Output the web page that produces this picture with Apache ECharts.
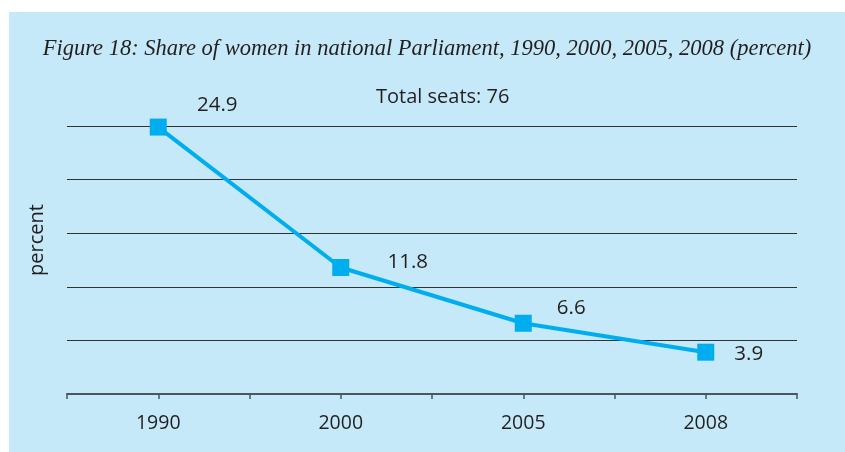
<!DOCTYPE html>
<html>
<head>
<meta charset="utf-8">
<script src="https://cdn.jsdelivr.net/npm/echarts@6/dist/echarts.min.js"></script>
<style>
  html, body { margin: 0; padding: 0; background: #fff; }
  #chart { position: absolute; left: 9px; top: 12px; width: 836px; height: 440px; background: #c5e9f8; }
</style>
</head>
<body>
<div id="chart"></div>
<script>
// data
var years = ['1990', '2000', '2005', '2008'];
var shares = [24.9, 11.8, 6.6, 3.9];
// where each value label sits relative to its marker
var labelOffsets = [[59, -22], [67, -5], [48, -15], [43, 2]];

var titleText = 'Figure 18: Share of women in national Parliament, 1990, 2000, 2005, 2008 (percent)';
var subText = 'Total seats: 76';
var yName = 'percent';

var lineColor = '#00aeef';
var textColor = '#231f20';
var sansFont = '"Open Sans", "DejaVu Sans", sans-serif';

var chart = echarts.init(document.getElementById('chart'));

var seriesData = shares.map(function (v, i) {
    return {
        value: v,
        label: { offset: labelOffsets[i] }
    };
});

var option = {
    animation: false,
    title: [{
        text: titleText,
        left: 'center',
        top: 21,
        textStyle: {
            fontFamily: '"Liberation Serif", "DejaVu Serif", serif',
            fontStyle: 'italic',
            fontWeight: 'normal',
            fontSize: 22.5,
            color: textColor
        }
    }, {
        text: subText,
        left: 362,
        top: 70,
        textStyle: {
            fontFamily: sansFont,
            fontWeight: 'normal',
            fontSize: 20,
            color: textColor
        }
    }],
    // y axis name, placed by hand since it is not centred on the plot
    graphic: [{
        type: 'text',
        x: 28,
        y: 228,
        rotation: Math.PI / 2,
        style: {
            text: yName,
            fontFamily: sansFont,
            fontSize: 20,
            fill: textColor,
            align: 'center',
            verticalAlign: 'middle'
        }
    }],
    grid: { left: 58, right: 48, top: 114, bottom: 58 },
    xAxis: [{
        type: 'category',
        data: years,
        boundaryGap: true,
        axisLine: { lineStyle: { color: '#4b5660', width: 2 } },
        axisTick: { show: true, length: 5, lineStyle: { color: '#4b5660', width: 1.5 } },
        axisLabel: { margin: 19, fontFamily: sansFont, fontSize: 19.5, color: textColor }
    }, {
        // second copy only to put ticks under the category centres
        type: 'category',
        data: years,
        position: 'bottom',
        boundaryGap: true,
        axisLine: { show: false },
        axisTick: { show: true, alignWithLabel: true, length: 5, lineStyle: { color: '#4b5660', width: 1.5 } },
        axisLabel: { show: false }
    }],
    yAxis: {
        type: 'value',
        min: 0,
        max: 25,
        interval: 5,
        axisLine: { show: false },
        axisTick: { show: false },
        axisLabel: { show: false },
        splitLine: { lineStyle: { color: '#333', width: 1 } }
    },
    series: [{
        type: 'line',
        data: seriesData,
        symbol: 'rect',
        symbolSize: 17,
        lineStyle: { color: lineColor, width: 4 },
        itemStyle: { color: lineColor },
        label: {
            show: true,
            position: 'inside',
            align: 'center',
            verticalAlign: 'middle',
            fontFamily: sansFont,
            fontSize: 20.5,
            color: textColor
        }
    }]
};

chart.setOption(option);
</script>
</body>
</html>
